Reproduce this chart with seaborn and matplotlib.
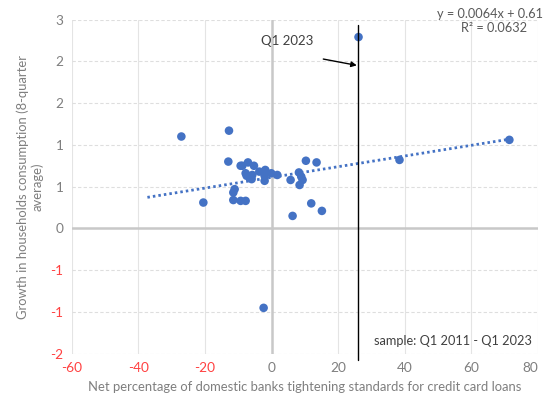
import math
import numpy as np
import pandas as pd
import seaborn as sns
import matplotlib.pyplot as plt
from matplotlib.ticker import FuncFormatter, MultipleLocator

# net % of banks tightening credit card standards vs consumption growth (8q avg)
tightening = [-27.1, -12.8, -13.0, -9.3, -8.8, -7.1, -5.3, -7.8, -7.5, -5.8,
              -6.0, -3.7, -1.9, -2.1, -2.1, -0.1, 1.7, 5.7, 8.2, 8.9,
              9.3, 8.4, 10.3, 13.5, 11.9, 15.1, 6.3, -20.5, -11.1, -11.5,
              -11.5, -9.3, -7.8, -2.4, 26.1, 38.4, 71.4]
consumption = [1.10, 1.17, 0.80, 0.75, 0.75, 0.79, 0.75, 0.66, 0.63, 0.64,
               0.59, 0.68, 0.70, 0.63, 0.57, 0.66, 0.64, 0.58, 0.67, 0.62,
               0.58, 0.52, 0.81, 0.79, 0.30, 0.21, 0.15, 0.31, 0.47, 0.43,
               0.34, 0.33, 0.33, -0.95, 2.29, 0.82, 1.06]

slope = 0.0064
intercept = 0.611
r2 = 0.0632
trend_range = [-37.3, 71.4]
q1_2023_line_x = 25.8

df = pd.DataFrame({'x': tightening, 'y': consumption})

sns.set_theme(style='white')
plt.rcParams['font.family'] = ['Lato', 'DejaVu Sans']

blue = '#4472C4'
grey_txt = '#7f7f7f'
red_txt = '#ff4040'

fig = plt.figure(figsize=(5.44, 3.98), dpi=100)
ax = fig.add_axes([0.132, 0.111, 0.857, 0.840])

# grid: vertical solid, horizontal dashed
for xv in range(-60, 81, 20):
    ax.axvline(xv, color='#e4e4e4', lw=0.8, zorder=0)
for yv in np.arange(-1.5, 2.51, 0.5):
    ax.axhline(yv, color='#dedede', lw=0.8, ls=(0, (3, 2)), zorder=0)
ax.axvline(0, color='#c8c8c8', lw=1.8, zorder=0.5)
ax.axhline(0, color='#c8c8c8', lw=1.8, zorder=0.5)

tx = np.array(trend_range)
trend = pd.DataFrame({'x': tx, 'y': slope * tx + intercept})
sns.lineplot(data=trend, x='x', y='y', ax=ax, color=blue, lw=2,
             linestyle=(0, (0.9, 1.1)), zorder=2)
sns.scatterplot(data=df, x='x', y='y', ax=ax, color=blue, s=38,
                edgecolor='none', zorder=3)

ax.plot([q1_2023_line_x, q1_2023_line_x], [2.44, -1.57], color='black',
        lw=1.0, clip_on=False, zorder=4)
ax.annotate('', xy=(26.4, 1.945), xytext=(14.7, 2.033),
            arrowprops=dict(arrowstyle='-|>', color='black', lw=1.0,
                            mutation_scale=8), zorder=4)
ax.text(4.8, 2.24, 'Q1 2023', ha='center', va='center', fontsize=9.5,
        color='#404040')
ax.text(30.6, -1.344, 'sample: Q1 2011 - Q1 2023', ha='left', va='center',
        fontsize=9.2, color='#404040')
ax.text(49.6, 2.57, 'y = %.4fx + %.3f' % (slope, intercept), ha='left',
        va='center', fontsize=9.2, color='#595959', clip_on=False)
ax.text(57.0, 2.40, 'R² = %.4f' % r2, ha='left', va='center', fontsize=9.2,
        color='#595959', clip_on=False)

ax.set_xlim(-60, 80)
ax.set_ylim(-1.5, 2.5)
ax.xaxis.set_major_locator(MultipleLocator(20))
ax.yaxis.set_major_locator(MultipleLocator(0.5))


def excel_round(v, pos):
    r = math.floor(abs(v) + 0.5)
    if v < 0 and r != 0:
        return '-%d' % r
    return '%d' % r


ax.yaxis.set_major_formatter(FuncFormatter(excel_round))
ax.xaxis.set_major_formatter(FuncFormatter(lambda v, p: '%d' % round(v)))
ax.tick_params(axis='both', length=0, labelsize=9.8, colors=grey_txt, pad=6)
for lab, v in zip(ax.get_xticklabels(), ax.get_xticks()):
    lab.set_color(red_txt if v < 0 else grey_txt)
    if v >= 80:
        lab.set_ha('right')
for lab, v in zip(ax.get_yticklabels(), ax.get_yticks()):
    lab.set_color(red_txt if v < 0 else grey_txt)

for sp in ax.spines.values():
    sp.set_visible(False)

ax.set_xlabel('Net percentage of domestic banks tightening standards for credit card loans',
              fontsize=9.4, color=grey_txt, labelpad=5)
ax.set_ylabel('Growth in households consumption (8-quarter\naverage)',
              fontsize=9.4, color=grey_txt, labelpad=5)

fig.savefig('out.png', dpi=100)
